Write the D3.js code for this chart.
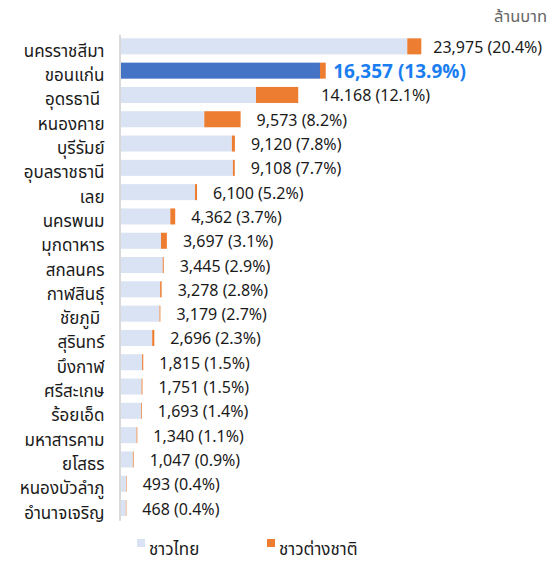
<!DOCTYPE html>
<html><head><meta charset="utf-8">
<script src="https://cdn.jsdelivr.net/npm/d3@7"></script>
<style>
body{margin:0;background:#fff;}
svg{display:block;font-family:"Noto Sans Thai","Noto Sans",sans-serif;}
</style>
</head><body>
<svg id="chart" width="553" height="562"></svg>
<script>
const provinces = ["นครราชสีมา","ขอนแก่น","อุดรธานี ","หนองคาย","บุรีรัมย์","อุบลราชธานี","เลย","นครพนม","มุกดาหาร","สกลนคร","กาฬสินธุ์","ชัยภูมิ ","สุรินทร์","บึงกาฬ","ศรีสะเกษ","ร้อยเอ็ด","มหาสารคาม","ยโสธร","หนองบัวลำภู","อำนาจเจริญ"];
const thaiValues = [22858,15900,10800,6680,8880,8960,5938,3970,3228,3365,3158,3109,2526,1725,1681,1633,1280,987,453,428];
const foreignValues = [1117,457,3368,2893,240,148,162,392,469,80,120,70,170,90,70,60,60,60,40,40];
const valueLabels = ["23,975 (20.4%)","16,357 (13.9%)","14.168 (12.1%)","9,573 (8.2%)","9,120 (7.8%)","9,108 (7.7%)","6,100 (5.2%)","4,362 (3.7%)","3,697 (3.1%)","3,445 (2.9%)","3,278 (2.8%)","3,179 (2.7%)","2,696 (2.3%)","1,815 (1.5%)","1,751 (1.5%)","1,693 (1.4%)","1,340 (1.1%)","1,047 (0.9%)","493 (0.4%)","468 (0.4%)"];
const seriesNames = ["ชาวไทย","ชาวต่างชาติ"];
const highlighted = "ขอนแก่น";
const unitLabel = "ล้านบาท";

const colors = {thai:"#DAE3F3", thaiHi:"#4472C4", foreign:"#ED7D31", hiText:"#1A7EF0"};
const labelNudge = {"นครราชสีมา":-4, "ขอนแก่น":-8.5, "อุดรธานี ":7};

const rows = provinces.map((p,i)=>({name:p, thai:thaiValues[i], foreign:foreignValues[i], label:valueLabels[i]}));

const svg = d3.select("#chart");
const x = d3.scaleLinear().domain([0,25000]).range([120.5,434.15]);
const y = d3.scaleBand().domain(provinces).range([34.2,520.2]).paddingInner(0.34).paddingOuter(0.17);

// bars
const g = svg.append("g");
g.selectAll("rect.thai").data(rows).join("rect")
  .attr("class","thai")
  .attr("x",x(0)).attr("y",d=>y(d.name))
  .attr("width",d=>x(d.thai)-x(0)).attr("height",y.bandwidth())
  .attr("fill",d=>d.name===highlighted?colors.thaiHi:colors.thai);
g.selectAll("rect.foreign").data(rows).join("rect")
  .attr("class","foreign")
  .attr("x",d=>x(d.thai)).attr("y",d=>y(d.name))
  .attr("width",d=>x(d.thai+d.foreign)-x(d.thai)).attr("height",y.bandwidth())
  .attr("fill",colors.foreign);

// axis
const axis = svg.append("g").attr("transform","translate(119.5,0)")
  .call(d3.axisLeft(y).tickSize(0).tickPadding(15));
axis.select(".domain").attr("stroke","#d9d9d9").attr("stroke-width",2);
axis.selectAll(".tick text")
  .attr("font-size",17).attr("fill","#1a1a1a")
  .attr("dy","0.62em")
  .style("white-space","pre")
  .style("font-family",'"Noto Sans Thai","Noto Sans",sans-serif');

// value labels
svg.append("g").selectAll("text").data(rows).join("text")
  .attr("x",d=>x(d.thai+d.foreign)+16+(labelNudge[d.name]||0))
  .attr("y",d=>y(d.name)+y.bandwidth()/2+(d.name===highlighted?7:6.5))
  .attr("font-size",d=>d.name===highlighted?19:16)
  .attr("font-weight",d=>d.name===highlighted?"bold":"normal")
  .attr("fill",d=>d.name===highlighted?colors.hiText:"#1a1a1a")
  .text(d=>d.label);

// unit
svg.append("text").attr("x",547).attr("y",22).attr("text-anchor","end")
  .attr("font-size",16.5).attr("fill","#666").text(unitLabel);

// legend
const legendItems = [{name:seriesNames[0],color:colors.thai,x:137},{name:seriesNames[1],color:colors.foreign,x:267}];
const lg = svg.append("g").selectAll("g").data(legendItems).join("g");
lg.append("rect").attr("x",d=>d.x).attr("y",539).attr("width",8).attr("height",8).attr("fill",d=>d.color);
lg.append("text").attr("x",d=>d.x+12).attr("y",555).attr("font-size",17).attr("fill","#1a1a1a").text(d=>d.name);
</script>
</body></html>
